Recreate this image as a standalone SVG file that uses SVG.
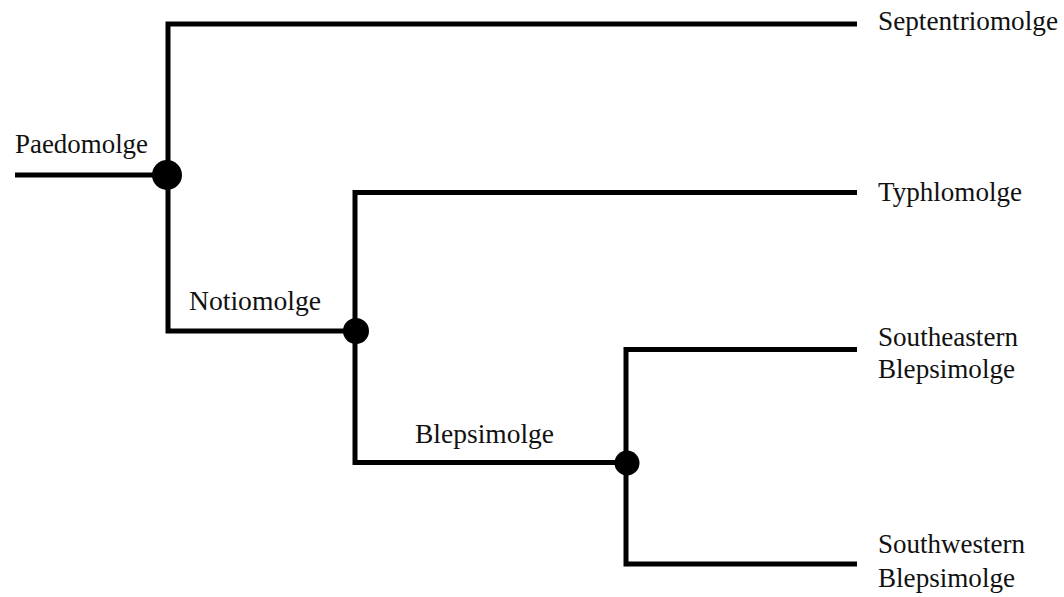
<svg xmlns="http://www.w3.org/2000/svg" width="1064" height="597" viewBox="0 0 1064 597">
<style>
.br{fill:none;stroke:#000;stroke-width:5;stroke-linejoin:miter;stroke-linecap:butt}
.dot{fill:#000}
text{font-family:"Liberation Serif","Times New Roman",serif;font-size:26.5px;fill:#111}
</style>
<rect width="1064" height="597" fill="#fff"/>
<g id="connectors">
<polyline class="br" points="15,175 168,175"/>
<polyline class="br" points="857,24 168,24 168,331 355,331"/>
<polyline class="br" points="857,192.5 355,192.5 355,462.5 626,462.5"/>
<polyline class="br" points="857,349.5 626,349.5 626,564 857,564"/>
</g>
<g id="node-paedomolge">
<circle class="dot" cx="167" cy="175" r="15"/>
<text x="15" y="153" textLength="133" lengthAdjust="spacingAndGlyphs">Paedomolge</text>
</g>
<g id="node-notiomolge">
<circle class="dot" cx="356" cy="331" r="13"/>
<text x="189" y="310" textLength="132" lengthAdjust="spacingAndGlyphs">Notiomolge</text>
</g>
<g id="node-blepsimolge">
<circle class="dot" cx="627" cy="463" r="12.5"/>
<text x="415" y="443" textLength="139" lengthAdjust="spacingAndGlyphs">Blepsimolge</text>
</g>
<g id="leaf-septentriomolge">
<text x="878" y="30" textLength="180" lengthAdjust="spacingAndGlyphs">Septentriomolge</text>
</g>
<g id="leaf-typhlomolge">
<text x="878" y="201" textLength="144" lengthAdjust="spacingAndGlyphs">Typhlomolge</text>
</g>
<g id="leaf-southeastern">
<text x="878" y="346" textLength="140" lengthAdjust="spacingAndGlyphs">Southeastern</text>
<text x="878" y="378" textLength="137" lengthAdjust="spacingAndGlyphs">Blepsimolge</text>
</g>
<g id="leaf-southwestern">
<text x="878" y="553" textLength="147" lengthAdjust="spacingAndGlyphs">Southwestern</text>
<text x="878" y="587" textLength="137" lengthAdjust="spacingAndGlyphs">Blepsimolge</text>
</g>
</svg>
